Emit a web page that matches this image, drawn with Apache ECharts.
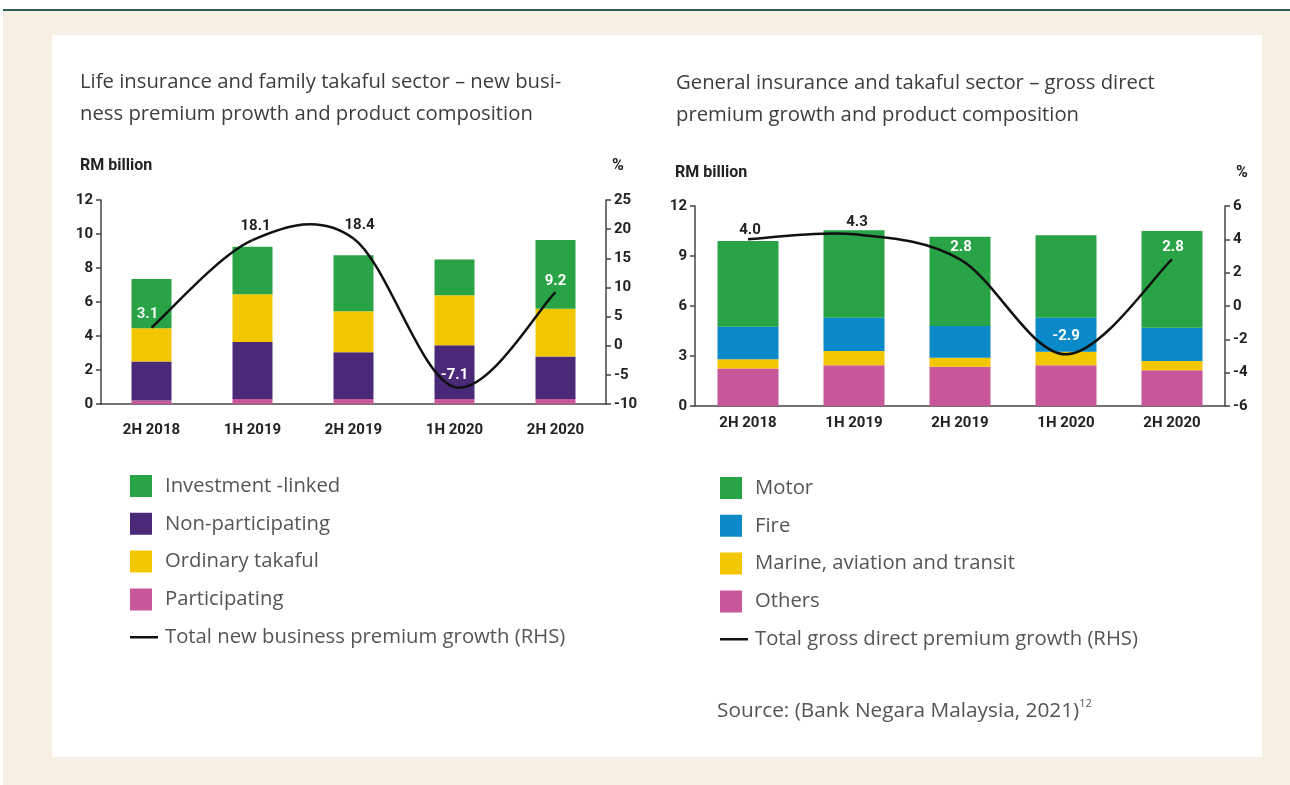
<!DOCTYPE html>
<html>
<head>
<meta charset="utf-8">
<script src="https://cdn.jsdelivr.net/npm/echarts@6/dist/echarts.min.js"></script>
<style>
  body { margin: 0; background: #fff; }
  .rule { position: absolute; left: 3px; top: 9px; width: 1287px; height: 2px; background: #2f5e50; }
  .frame { position: absolute; left: 3px; top: 11px; width: 1287px; height: 774px; background: #f6efe2; }
  .panel { position: absolute; left: 52px; top: 35px; width: 1210px; height: 722px; background: #fff; }
  #chart { position: absolute; left: 0; top: 0; width: 1290px; height: 785px; }
</style>
</head>
<body>
<div class="rule"></div>
<div class="frame"></div>
<div class="panel"></div>
<div id="chart"></div>
<script>
// half-year periods shared by both panels
const categories = ['2H 2018', '1H 2019', '2H 2019', '1H 2020', '2H 2020']

// life insurance & family takaful, RM billion
const lifeParticipating = [0.2, 0.3, 0.3, 0.3, 0.3]
const lifeNonParticipating = [2.3, 3.35, 2.75, 3.15, 2.5]
const lifeOrdinaryTakaful = [1.95, 2.8, 2.4, 2.95, 2.8]
const lifeInvestmentLinked = [2.9, 2.8, 3.3, 2.1, 4.05]
// total new business premium growth, %
const lifeGrowth = [3.1, 18.1, 18.4, -7.1, 9.2]

// general insurance & takaful, RM billion
const genOthers = [2.25, 2.45, 2.35, 2.45, 2.15]
const genMarine = [0.55, 0.85, 0.55, 0.8, 0.55]
const genFire = [1.95, 2.0, 1.9, 2.05, 2.0]
const genMotor = [5.15, 5.25, 5.35, 4.95, 5.8]
// total gross direct premium growth, %
const genGrowth = [4.0, 4.3, 2.8, -2.9, 2.8]

// axis ranges [min, max, interval]
const lifeBarAxis = [0, 12, 2]
const lifePctAxis = [-10, 25, 5]
const genBarAxis = [0, 12, 3]
const genPctAxis = [-6, 6, 2]

const green = '#28a345'
const purple = '#4a2a78'
const yellow = '#f2c700'
const pink = '#c8579a'
const blue = '#0a8ac8'
const axisColor = '#444'
const numFont = 'Roboto, sans-serif'
const textFont = '"Open Sans", Lato, sans-serif'
const textSize = 20.3

// legend icons: 22px square or 28px rule inside a 28x22 box
const squareIcon = 'path://M0,0H22V22H0ZM28,22L28,22Z'
const ruleIcon = 'path://M0,0L0,0ZM0,9.75H28V12.25H0ZM28,22L28,22Z'

// label colour / nudge for each growth point (white where it sits on a bar)
const lifeLabelStyle = [
  { color: '#eef4f2', dx: -4, dy: 0 },
  { color: '#222', dx: 3, dy: 0 },
  { color: '#222', dx: 6, dy: 0 },
  { color: '#fff', dx: 0, dy: 2 },
  { color: '#fff', dx: 0, dy: 3 }
]
const genLabelStyle = [
  { color: '#222', dx: 2, dy: 4 },
  { color: '#222', dx: 3, dy: 1 },
  { color: '#fff', dx: 1, dy: 1 },
  { color: '#fff', dx: 0, dy: -5 },
  { color: '#fff', dx: 1, dy: 1 }
]

function valueAxis (gridIndex, range, position) {
  return {
    type: 'value',
    gridIndex,
    position,
    min: range[0],
    max: range[1],
    interval: range[2],
    splitLine: { show: false },
    axisLine: { show: true, lineStyle: { color: axisColor, width: 1.5 } },
    axisTick: { show: true, length: 5, lineStyle: { color: axisColor, width: 1.5 } },
    axisLabel: { color: '#222', fontFamily: numFont, fontWeight: 'bold', fontSize: 15, margin: 8 }
  }
}

function categoryAxis (gridIndex, margin) {
  return {
    type: 'category',
    gridIndex,
    data: categories,
    axisLine: { lineStyle: { color: axisColor, width: 1.5 } },
    axisTick: { length: 6, lineStyle: { color: axisColor, width: 1.5 } },
    axisLabel: { color: '#222', fontFamily: numFont, fontWeight: 'bold', fontSize: 15, margin }
  }
}

function barSeries (name, data, color, xIdx, yIdx, stack, width) {
  return {
    name,
    type: 'bar',
    stack,
    xAxisIndex: xIdx,
    yAxisIndex: yIdx,
    barWidth: width,
    data,
    itemStyle: { color },
    emphasis: { disabled: true }
  }
}

// smooth growth curve (Catmull-Rom through the points, like the source chart) with value labels
function growthSeries (name, values, styles, xIdx, yIdx) {
  return {
    name,
    type: 'custom',
    xAxisIndex: xIdx,
    yAxisIndex: yIdx,
    z: 5,
    itemStyle: { color: '#111' },
    data: values.map((v, i) => [i, v]),
    renderItem: (params, api) => {
      const i = params.dataIndex
      const n = values.length
      const pt = (k) => api.coord([Math.max(0, Math.min(n - 1, k)), values[Math.max(0, Math.min(n - 1, k))]])
      const p = pt(i)
      const children = []
      if (i < n - 1) {
        const p0 = pt(i - 1)
        const p2 = pt(i + 1)
        const p3 = pt(i + 2)
        children.push({
          type: 'bezierCurve',
          shape: {
            x1: p[0],
            y1: p[1],
            x2: p2[0],
            y2: p2[1],
            cpx1: p[0] + (p2[0] - p0[0]) / 6,
            cpy1: p[1] + (p2[1] - p0[1]) / 6,
            cpx2: p2[0] - (p3[0] - p[0]) / 6,
            cpy2: p2[1] - (p3[1] - p[1]) / 6
          },
          style: { fill: null, stroke: '#111', lineWidth: 2.5 }
        })
      }
      const s = styles[i]
      children.push({
        type: 'text',
        x: p[0] + s.dx,
        y: p[1] - 6 + s.dy,
        style: {
          text: values[i].toFixed(1),
          fill: s.color,
          fontFamily: numFont,
          fontWeight: 'bold',
          fontSize: 15,
          align: 'center',
          verticalAlign: 'bottom'
        }
      })
      return { type: 'group', children }
    }
  }
}

function legend (left, top, names) {
  return {
    orient: 'vertical',
    left,
    top,
    padding: 0,
    itemWidth: 28,
    itemHeight: 22,
    itemGap: 15.8,
    selectedMode: false,
    data: names.map((name, i) => ({ name, icon: i === names.length - 1 ? ruleIcon : squareIcon })),
    textStyle: { color: '#555', fontFamily: textFont, fontSize: textSize, padding: [0, 0, 0, 2] }
  }
}

function heading (text, left, top, opts) {
  return Object.assign({
    text,
    left,
    top,
    padding: 0,
    textStyle: { color: '#3d3d3d', fontFamily: textFont, fontWeight: 'normal', fontSize: textSize, lineHeight: 32 }
  }, opts || {})
}

const unitStyle = { textStyle: { color: '#222', fontFamily: numFont, fontWeight: 'bold', fontSize: 16 } }

const lifeNames = ['Investment -linked', 'Non-participating', 'Ordinary takaful', 'Participating', 'Total new business premium growth (RHS)']
const genNames = ['Motor', 'Fire', 'Marine, aviation and transit', 'Others', 'Total gross direct premium growth (RHS)']

const chart = echarts.init(document.getElementById('chart'))
chart.setOption({
  backgroundColor: 'transparent',
  animation: false,
  title: [
    heading('Life insurance and family takaful sector – new busi-\nness premium prowth and product composition', 80, 66),
    heading('General insurance and takaful sector – gross direct\npremium growth and product composition', 676, 67),
    heading('RM billion', 80, 158, unitStyle),
    heading('%', 612, 158, unitStyle),
    heading('RM billion', 675, 165, unitStyle),
    heading('%', 1236, 165, unitStyle),
    heading('{a|Source: (Bank Negara Malaysia, 2021)}{s|12}', 717, 698, {
      textStyle: {
        rich: {
          a: { color: '#555', fontFamily: textFont, fontWeight: 'normal', fontSize: 20.8, lineHeight: 26 },
          s: { color: '#555', fontFamily: textFont, fontWeight: 'normal', fontSize: 11, verticalAlign: 'top', lineHeight: 26 }
        }
      }
    })
  ],
  legend: [
    legend(130, 475, lifeNames),
    legend(720, 477, genNames)
  ],
  grid: [
    { left: 101, right: 1290 - 606, top: 200, bottom: 785 - 404 },
    { left: 695, right: 1290 - 1225, top: 206, bottom: 785 - 406 }
  ],
  xAxis: [
    categoryAxis(0, 19),
    categoryAxis(1, 10)
  ],
  yAxis: [
    valueAxis(0, lifeBarAxis, 'left'),
    valueAxis(0, lifePctAxis, 'right'),
    valueAxis(1, genBarAxis, 'left'),
    valueAxis(1, genPctAxis, 'right')
  ],
  series: [
    barSeries('Participating', lifeParticipating, pink, 0, 0, 'life', 40),
    barSeries('Non-participating', lifeNonParticipating, purple, 0, 0, 'life', 40),
    barSeries('Ordinary takaful', lifeOrdinaryTakaful, yellow, 0, 0, 'life', 40),
    barSeries('Investment -linked', lifeInvestmentLinked, green, 0, 0, 'life', 40),
    growthSeries('Total new business premium growth (RHS)', lifeGrowth, lifeLabelStyle, 0, 1),
    barSeries('Others', genOthers, pink, 1, 2, 'gen', 61),
    barSeries('Marine, aviation and transit', genMarine, yellow, 1, 2, 'gen', 61),
    barSeries('Fire', genFire, blue, 1, 2, 'gen', 61),
    barSeries('Motor', genMotor, green, 1, 2, 'gen', 61),
    growthSeries('Total gross direct premium growth (RHS)', genGrowth, genLabelStyle, 1, 3)
  ]
})
</script>
</body>
</html>
